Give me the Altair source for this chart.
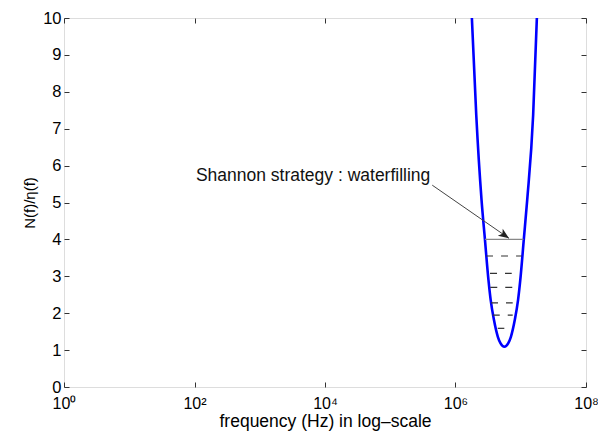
import altair as alt
import pandas as pd

# ---- data ----
freq_hz = [1.782e6, 2.080e6, 2.506e6, 2.825e6, 3.199e6, 3.459e6, 3.882e6, 4.457e6,
           4.909e6, 5.610e6, 6.412e6, 7.063e6, 8.110e6, 9.099e6, 9.840e6, 1.114e7,
           1.256e7, 1.549e7, 1.766e7]
ratio = [10.0, 7.37, 5.07, 4.00, 2.90, 2.36, 1.82, 1.36,
         1.18, 1.09, 1.18, 1.36, 1.82, 2.36, 2.90, 4.00,
         5.07, 7.37, 10.0]

water_level = [4.0]
water_f_start = [2.83e6]
water_f_end = [1.10e7]

fill_levels = [3.55, 3.08, 2.70, 2.28, 1.95, 1.59]
fill_f_start = [2.94e6, 3.38e6, 3.41e6, 3.50e6, 3.72e6, 4.44e6]
fill_f_end = [1.035e7, 7.27e6, 7.69e6, 7.53e6, 7.53e6, 5.60e6]

annotation = ["Shannon strategy : waterfilling"]
annot_f = [105.0]
annot_y = [5.72]
arrow_f = [4.4e5, 6.6e6]
arrow_y = [5.47, 4.03]

x_ticks = [1, 1e2, 1e4, 1e6, 1e8]
x_tick_labels = ["10⁰", "10²", "10⁴", "10⁶", "10⁸"]
y_ticks = list(range(0, 11))

FONT = "Liberation Sans"

curve_df = pd.DataFrame({"f": freq_hz, "r": ratio})
water_df = pd.DataFrame({"level": water_level, "f1": water_f_start, "f2": water_f_end})
fill_df = pd.DataFrame({"level": fill_levels, "f1": fill_f_start, "f2": fill_f_end})
text_df = pd.DataFrame({"label": annotation, "f": annot_f, "y": annot_y})
arrow_df = pd.DataFrame({"f1": [arrow_f[0]], "f2": [arrow_f[1]], "y1": [arrow_y[0]], "y2": [arrow_y[1]]})
head_df = pd.DataFrame({"f": [arrow_f[1]], "y": [arrow_y[1]]})

xscale = alt.Scale(type="log", domain=[x_ticks[0], x_ticks[-1]], nice=False)
yscale = alt.Scale(domain=[y_ticks[0], y_ticks[-1]], nice=False, zero=False)

label_expr = " : ".join(f"datum.value == {v} ? '{l}'" for v, l in zip(x_ticks, x_tick_labels)) + " : ''"

curve = alt.Chart(curve_df).mark_line(
    color="#0000ff", strokeWidth=2.6, interpolate="monotone", clip=True
).encode(
    x=alt.X("f:Q", scale=xscale, axis=alt.Axis(
        orient="bottom", values=x_ticks, labelExpr=label_expr, domain=False,
        ticks=True, tickSize=5, offset=-5, labelPadding=8, grid=False,
        title="frequency (Hz) in log\u2013scale", titlePadding=1,
        titleFont=FONT, titleFontSize=17.5, titleFontWeight="normal", titleColor="#000",
        labelFont=FONT, labelFontSize=16, labelColor="#000", tickColor="#333",
        labelFlush=False)),
    y=alt.Y("r:Q", scale=yscale, axis=alt.Axis(
        orient="left", values=y_ticks, domain=False, ticks=True, tickSize=5,
        offset=-5, labelPadding=3, grid=False, title="N(f)/η(f)", titlePadding=5,
        titleFont=FONT, titleFontSize=15, titleFontWeight="normal", titleColor="#000",
        labelFont=FONT, labelFontSize=16.5, labelColor="#000", tickColor="#333",
        labelFlush=False)),
)

water = alt.Chart(water_df).mark_rule(color="#888888", strokeWidth=1.2).encode(
    x=alt.X("f1:Q", scale=xscale, axis=alt.Axis(
        orient="top", values=x_ticks, labels=False, domain=False, ticks=True,
        tickSize=5, offset=-5, grid=False, title=None, tickColor="#333")),
    x2="f2:Q",
    y=alt.Y("level:Q", scale=yscale, axis=alt.Axis(
        orient="right", values=y_ticks, labels=False, domain=False, ticks=True,
        tickSize=5, offset=-5, grid=False, title=None, tickColor="#333")),
)

fill = alt.Chart(fill_df).mark_rule(color="#333333", strokeWidth=1.2, strokeDash=[7, 8]).encode(
    x=alt.X("f1:Q", scale=xscale, axis=None),
    x2="f2:Q",
    y=alt.Y("level:Q", scale=yscale, axis=None),
)

arrow = alt.Chart(arrow_df).mark_rule(color="#444444", strokeWidth=1).encode(
    x=alt.X("f1:Q", scale=xscale, axis=None),
    x2="f2:Q",
    y=alt.Y("y1:Q", scale=yscale, axis=None),
    y2="y2:Q",
)

head = alt.Chart(head_df).mark_point(
    shape="M0,0 L-1,-0.4 L-0.75,0 L-1,0.4 Z", size=450, angle=35,
    filled=True, color="#222222", opacity=1
).encode(
    x=alt.X("f:Q", scale=xscale, axis=None),
    y=alt.Y("y:Q", scale=yscale, axis=None),
)

text = alt.Chart(text_df).mark_text(
    align="left", baseline="middle", font=FONT, fontSize=17.5, color="#111111"
).encode(
    x=alt.X("f:Q", scale=xscale, axis=None),
    y=alt.Y("y:Q", scale=yscale, axis=None),
    text="label:N",
)

chart = alt.layer(curve, water, fill, arrow, head, text).resolve_axis(
    x="independent", y="independent"
).properties(
    width=522, height=369,
    padding={"left": 56, "top": 10, "right": 12, "bottom": 47},
    autosize="none",
).configure_view(stroke="#333333", strokeWidth=1).configure(background="white")

chart.save("out.html", embed_options={"renderer": "svg", "actions": False})
